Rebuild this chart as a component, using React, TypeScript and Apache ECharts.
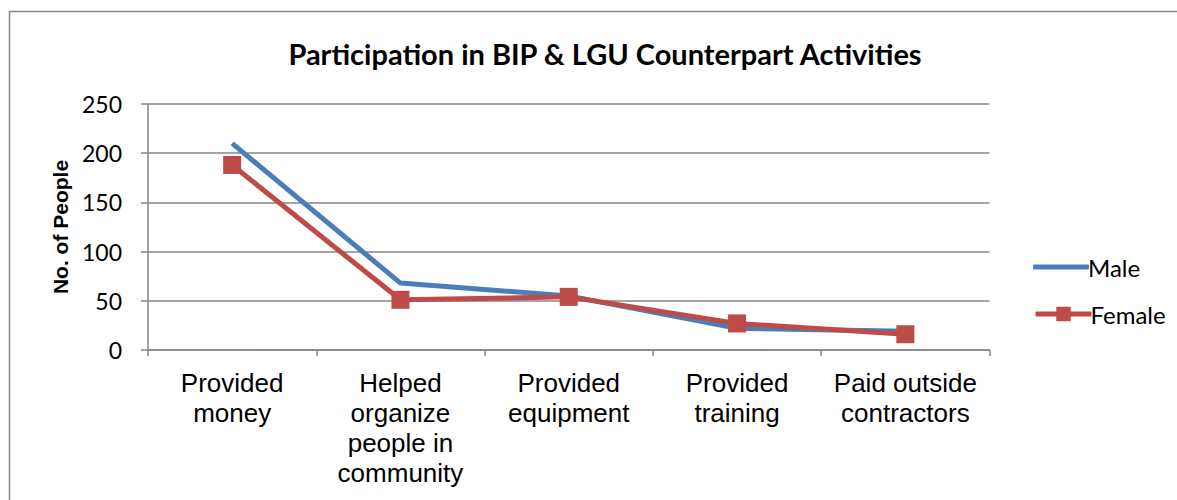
import React, { useEffect, useRef } from "react";
import * as echarts from "echarts";

const categories = [
  "Provided\nmoney",
  "Helped\norganize\npeople in\ncommunity",
  "Provided\nequipment",
  "Provided\ntraining",
  "Paid outside\ncontractors",
];
const maleValues = [210, 68, 55, 22, 19];
const femaleValues = [188, 51, 54, 27, 16];
const yTicks = { min: 0, max: 250, interval: 50 };

export default function App() {
  const ref = useRef<HTMLDivElement>(null);
  useEffect(() => {
    if (!ref.current) return;
    const chart = echarts.init(ref.current, null, { renderer: "svg" });
    const grid = "#868686";
    const legendText = { fontFamily: "Lato", fontSize: 24, color: "#000", padding: [0, 0, 0, -6] };
    chart.setOption({
      animation: false,
      backgroundColor: "#ffffff",
      title: {
        text: "Participation in BIP & LGU Counterpart Activities",
        left: 600,
        textAlign: "center",
        top: 34,
        textStyle: { fontFamily: "Lato", fontWeight: "bold", fontSize: 29, color: "#000" },
      },
      graphic: [
        {
          type: "rect",
          shape: { x: 9.5, y: 11.5, width: 1300, height: 700 },
          style: { fill: "none", stroke: grid, lineWidth: 1.5 },
          silent: true,
        },
      ],
      grid: { left: 148, right: 187.5, top: 104, bottom: 150 },
      legend: [
        {
          orient: "vertical",
          left: 1028,
          top: 250,
          itemWidth: 56,
          itemHeight: 5,
          icon: "roundRect",
          textStyle: legendText,
          data: ["Male"],
        },
        {
          orient: "vertical",
          left: 1028,
          top: 297,
          itemWidth: 56,
          itemHeight: 18,
          lineStyle: { width: 5 },
          textStyle: legendText,
          data: ["Female"],
        },
      ],
      xAxis: {
        type: "category",
        data: categories,
        boundaryGap: true,
        axisLine: { lineStyle: { color: grid, width: 1.5 } },
        axisTick: { show: true, length: 6, lineStyle: { color: grid, width: 1.5 } },
        axisLabel: {
          interval: 0,
          margin: 18,
          fontFamily: "Liberation Sans",
          fontSize: 26,
          lineHeight: 30,
          color: "#000",
        },
      },
      yAxis: {
        type: "value",
        min: yTicks.min,
        max: yTicks.max,
        interval: yTicks.interval,
        name: "No. of People",
        nameLocation: "middle",
        nameGap: 72,
        nameTextStyle: { fontFamily: "Liberation Sans", fontWeight: "bold", fontSize: 21, color: "#000" },
        axisLine: { show: true, lineStyle: { color: grid, width: 1.5 } },
        axisTick: { show: true, length: 7, lineStyle: { color: grid, width: 1.5 } },
        splitLine: { lineStyle: { color: grid, width: 1.5 } },
        axisLabel: { margin: 26, fontFamily: "Lato", fontSize: 23, color: "#000" },
      },
      series: [
        {
          name: "Male",
          type: "line",
          data: maleValues,
          symbol: "none",
          lineStyle: { color: "#4A7EBB", width: 5 },
          itemStyle: { color: "#4A7EBB" },
        },
        {
          name: "Female",
          type: "line",
          data: femaleValues,
          symbol: "rect",
          symbolSize: 18,
          lineStyle: { color: "#BE4B48", width: 5 },
          itemStyle: { color: "#BE4B48" },
        },
      ],
    });
    return () => chart.dispose();
  }, []);
  return (
    <div
      ref={ref}
      style={{ position: "absolute", left: 0, top: 0, width: 1177, height: 500 }}
    />
  );
}
